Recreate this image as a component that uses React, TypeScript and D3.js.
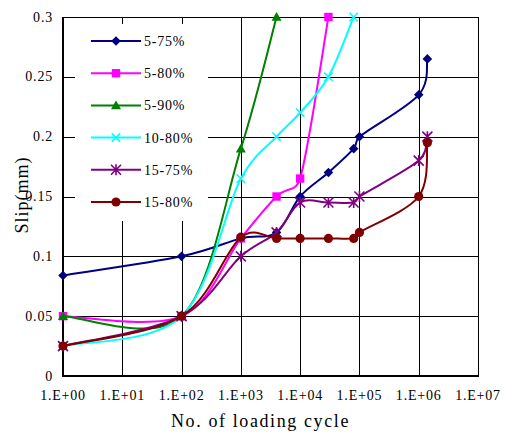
import React from "react";
import * as d3 from "d3";

// Loading cycles (N) and measured slip (mm) for each test series
const s575Cycles = [1, 100, 1000, 4000, 1e4, 3e4, 8e4, 1e5, 1e6, 1.4e6];
const s575Slip = [0.084, 0.1, 0.115, 0.12, 0.15, 0.17, 0.19, 0.2, 0.235, 0.265];

const s580Cycles = [1, 100, 1000, 4000, 1e4, 3e4];
const s580Slip = [0.05, 0.05, 0.115, 0.15, 0.165, 0.3];

const s590Cycles = [1, 100, 1000, 4000];
const s590Slip = [0.05, 0.05, 0.19, 0.3];

const s1080Cycles = [1, 100, 1000, 4000, 1e4, 3e4, 8e4];
const s1080Slip = [0.025, 0.05, 0.165, 0.2, 0.22, 0.25, 0.3];

const s1575Cycles = [1, 100, 1000, 4000, 1e4, 3e4, 8e4, 1e5, 1e6, 1.4e6];
const s1575Slip = [0.025, 0.05, 0.1, 0.12, 0.145, 0.145, 0.145, 0.15, 0.18, 0.2];

const s1580Cycles = [1, 100, 1000, 4000, 1e4, 3e4, 8e4, 1e5, 1e6, 1.4e6];
const s1580Slip = [0.025, 0.05, 0.116, 0.115, 0.115, 0.115, 0.115, 0.12, 0.15, 0.195];

const seriesNames = ["5-75%", "5-80%", "5-90%", "10-80%", "15-75%", "15-80%"];
const seriesColors = ["#000080", "#FF00FF", "#008000", "#00FFFF", "#800080", "#800000"];
const seriesMarkers = ["diamond", "square", "triangle", "x", "star", "circle"];
const seriesCycles = [s575Cycles, s580Cycles, s590Cycles, s1080Cycles, s1575Cycles, s1580Cycles];
const seriesSlip = [s575Slip, s580Slip, s590Slip, s1080Slip, s1575Slip, s1580Slip];

const xTicks = [1, 10, 100, 1e3, 1e4, 1e5, 1e6, 1e7];
const xTickLabels = ["1.E+00", "1.E+01", "1.E+02", "1.E+03", "1.E+04", "1.E+05", "1.E+06", "1.E+07"];
const yTicks = [0, 0.05, 0.1, 0.15, 0.2, 0.25, 0.3];
const yTickLabels = ["0", "0.05", "0.1", "0.15", "0.2", "0.25", "0.3"];

const FONT = "'Liberation Serif', 'Times New Roman', serif";

// Smoothed line: cubic Bezier segments whose control arms are 1/6 of the
// neighbour chord, capped at half of the segment length to limit overshoot.
function smoothPath(pts: [number, number][]): string {
  const p = d3.path();
  if (!pts.length) return "";
  p.moveTo(pts[0][0], pts[0][1]);
  const dist = (a: [number, number], b: [number, number]) => Math.hypot(b[0] - a[0], b[1] - a[1]);
  for (let i = 0; i < pts.length - 1; i++) {
    const p0 = pts[Math.max(0, i - 1)];
    const p1 = pts[i];
    const p2 = pts[i + 1];
    const p3 = pts[Math.min(pts.length - 1, i + 2)];
    const d12 = dist(p1, p2);
    const d02 = dist(p0, p2);
    const d13 = dist(p1, p3);
    const f1 = d02 / 6 < d12 / 2 ? 1 / 6 : d02 > 0 ? d12 / (2 * d02) : 0;
    const f2 = d13 / 6 < d12 / 2 ? 1 / 6 : d13 > 0 ? d12 / (2 * d13) : 0;
    const c1x = p1[0] + (p2[0] - p0[0]) * f1;
    const c1y = p1[1] + (p2[1] - p0[1]) * f1;
    const c2x = p2[0] - (p3[0] - p1[0]) * f2;
    const c2y = p2[1] - (p3[1] - p1[1]) * f2;
    p.bezierCurveTo(c1x, c1y, c2x, c2y, p2[0], p2[1]);
  }
  return p.toString();
}

function Marker({ kind, x, y, color }: { kind: string; x: number; y: number; color: string }) {
  switch (kind) {
    case "diamond": {
      const r = 4.8;
      return <path d={`M${x},${y - r}L${x + r},${y}L${x},${y + r}L${x - r},${y}Z`} fill={color} />;
    }
    case "square":
      return <rect x={x - 4.2} y={y - 4.2} width={8.4} height={8.4} fill={color} />;
    case "triangle": {
      const r = 5;
      return <path d={`M${x},${y - r}L${x + r},${y + r * 0.75}L${x - r},${y + r * 0.75}Z`} fill={color} />;
    }
    case "x": {
      const r = 4.2;
      return (
        <path
          d={`M${x - r},${y - r}L${x + r},${y + r}M${x - r},${y + r}L${x + r},${y - r}`}
          stroke={color}
          strokeWidth={1.6}
          fill="none"
        />
      );
    }
    case "star": {
      const r = 5;
      return (
        <path
          d={`M${x - r},${y - r}L${x + r},${y + r}M${x - r},${y + r}L${x + r},${y - r}M${x},${y - r * 1.1}L${x},${y + r * 1.1}`}
          stroke={color}
          strokeWidth={1.6}
          fill="none"
        />
      );
    }
    default:
      return <circle cx={x} cy={y} r={4.6} fill={color} />;
  }
}

export default function App() {
  const left = 63;
  const right = 478;
  const top = 17;
  const bottom = 376;

  const x = d3.scaleLog().domain([1, 1e7]).range([left, right]);
  const y = d3.scaleLinear().domain([0, 0.3]).range([bottom, top]);

  // Legend box geometry
  const lg = { x0: 75, y0: 24, x1: 208, y1: 221 };
  const legendRowY = (i: number) => 41 + i * 32.2;

  return (
    <svg
      width={509}
      height={434}
      style={{ position: "absolute", left: 0, top: 0, background: "#fff" }}
      fontFamily={FONT}
    >
      <rect x={0} y={0} width={509} height={434} fill="#fff" />
      <defs>
        <clipPath id="plot-clip">
          <rect x={left - 6} y={top - 6} width={right - left + 12} height={bottom - top + 12} />
        </clipPath>
      </defs>

      {/* grid */}
      <g stroke="#000" strokeWidth={1} shapeRendering="crispEdges">
        {yTicks.slice(1, -1).map((t) => (
          <line key={`gy${t}`} x1={left} x2={right} y1={Math.round(y(t)) + 0.5} y2={Math.round(y(t)) + 0.5} />
        ))}
        {xTicks.slice(1, -1).map((t) => (
          <line key={`gx${t}`} x1={Math.round(x(t)) + 0.5} x2={Math.round(x(t)) + 0.5} y1={top} y2={bottom} />
        ))}
      </g>

      {/* frame */}
      <g stroke="#000" fill="none" shapeRendering="crispEdges">
        <line x1={left} x2={right} y1={top + 0.5} y2={top + 0.5} strokeWidth={1} />
        <line x1={right + 0.5} x2={right + 0.5} y1={top} y2={bottom} strokeWidth={1} />
        <line x1={left} x2={left} y1={top} y2={bottom + 1} strokeWidth={2} />
        <line x1={left - 1} x2={right + 1} y1={bottom} y2={bottom} strokeWidth={2} />
      </g>

      {/* legend background hides the grid behind it */}
      <rect x={lg.x0} y={lg.y0} width={lg.x1 - lg.x0} height={lg.y1 - lg.y0} fill="#fff" />

      {/* series */}
      <g clipPath="url(#plot-clip)">
        {seriesNames.map((name, i) => {
          const data = seriesCycles[i].map((c, j) => [c, seriesSlip[i][j]] as [number, number]);
          const px = data.map((d) => [x(d[0]), y(d[1])] as [number, number]);
          return (
            <g key={name}>
              <path d={smoothPath(px)} fill="none" stroke={seriesColors[i]} strokeWidth={2} />
              {px.map((p, j) => (
                <Marker key={j} kind={seriesMarkers[i]} x={p[0]} y={p[1]} color={seriesColors[i]} />
              ))}
            </g>
          );
        })}
      </g>

      {/* legend entries */}
      <g>
        {seriesNames.map((name, i) => {
          const ly = legendRowY(i);
          return (
            <g key={`lg${name}`}>
              <line x1={91} x2={141} y1={ly} y2={ly} stroke={seriesColors[i]} strokeWidth={2} />
              <Marker kind={seriesMarkers[i]} x={116} y={ly} color={seriesColors[i]} />
              <text x={144} y={ly + 5} fontSize={14} letterSpacing={0.8} fill="#000">
                {name}
              </text>
            </g>
          );
        })}
      </g>

      {/* y tick labels */}
      <g fontSize={14} fill="#000" letterSpacing={0.8}>
        {yTicks.map((t, i) => (
          <text key={`yl${t}`} x={53} y={y(t) + 4.5} textAnchor="end">
            {yTickLabels[i]}
          </text>
        ))}
      </g>

      {/* x tick labels */}
      <g fontSize={14} fill="#000" letterSpacing={0.8}>
        {xTicks.map((t, i) => (
          <text key={`xl${t}`} x={x(t)} y={400} textAnchor="middle">
            {xTickLabels[i]}
          </text>
        ))}
      </g>

      {/* axis titles */}
      <text x={(left + right) / 2 - 10} y={427} fontSize={18} letterSpacing={1.6} textAnchor="middle" fill="#000">
        No. of loading cycle
      </text>
      <text
        transform="translate(28,195) rotate(-90)"
        fontSize={18}
        letterSpacing={1}
        textAnchor="middle"
        fill="#000"
      >
        Slip(mm)
      </text>
    </svg>
  );
}
